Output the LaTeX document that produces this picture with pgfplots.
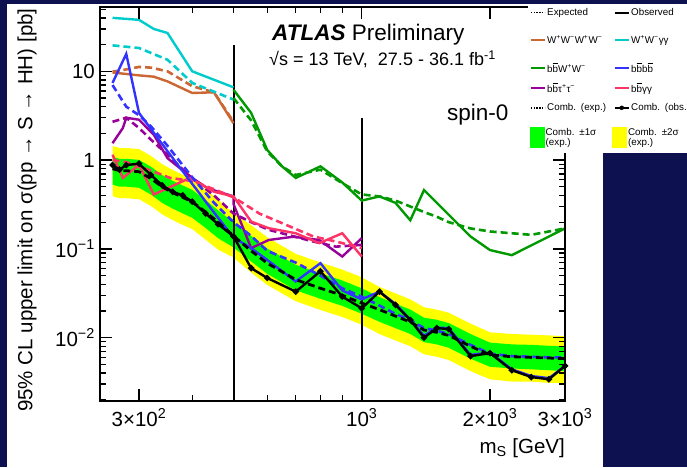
\documentclass[border=0pt]{standalone}
\usepackage{fontspec}
\setmainfont{Liberation Sans}
\usepackage{pgfplots}
\pgfplotsset{compat=1.18}
\usepackage{pgfplotstable}

\definecolor{navy}{RGB}{14,17,80}
\definecolor{cWWWW}{RGB}{204,102,51}
\definecolor{cWWgg}{RGB}{0,204,204}
\definecolor{cbbWW}{RGB}{0,153,0}
\definecolor{cbbbb}{RGB}{51,51,255}
\definecolor{cbbtt}{RGB}{153,0,153}
\definecolor{cbbgg}{RGB}{255,51,102}
\definecolor{bandone}{RGB}{0,255,0}
\definecolor{bandtwo}{RGB}{255,255,0}

\newcommand{\bbar}{$\overline{\mbox{b}}$}
\newcommand{\tl}{\fontsize{20.5}{24}\selectfont}

% hidden axes that only carry a block of legend rows
\pgfplotsset{
  legendblock/.style={
    at={(100pt,66.3pt)}, anchor=south west,
    scale only axis, width=465pt, height=393.7pt,
    hide axis, xmin=0, xmax=1, ymin=0, ymax=1,
    legend columns=2,
    legend cell align=left,
    legend style={at={(axis description cs:0.9237,#1)}, anchor=west,
      draw=none, fill=none, inner sep=0pt,
      font=\fontsize{9.8}{9.5}\selectfont,
      nodes={inner xsep=1.5pt, inner ysep=0pt, text width=65pt}},
    legend image code/.code={\draw[##1] (0pt,0pt) -- (14pt,0pt);},
  },
}

% combined expected limit
\pgfplotstableread{
m     exp
260   0.80
270   0.76
280   0.76
300   0.74
320   0.62
340   0.50
360   0.43
380   0.38
400   0.34
430   0.26
460   0.20
500   0.14
550   0.095
600   0.069
700   0.045
800   0.036
900   0.030
1000  0.0245
1100  0.0207
1200  0.0175
1300  0.015
1400  0.0122
1500  0.0115
1600  0.0106
1800  0.008
2000  0.0064
2250  0.0061
2500  0.0060
2750  0.0059
3000  0.0058
}\combexp

% +-2 sigma band: upper edge left to right, lower edge right to left
\pgfplotstableread{
m     v
260   1.44
270   1.368
280   1.368
300   1.332
320   1.116
340   0.90
360   0.774
380   0.684
400   0.612
430   0.468
460   0.36
500   0.252
550   0.185
600   0.135
700   0.0878
800   0.0702
900   0.0585
1000  0.0478
1100  0.0373
1200  0.0315
1300  0.027
1400  0.022
1500  0.0207
1600  0.0191
1800  0.0144
2000  0.0115
2250  0.011
2500  0.0108
2750  0.0106
3000  0.0104
3000  0.0031
2750  0.0031
2500  0.0032
2250  0.0032
2000  0.0034
1800  0.0042
1600  0.0056
1500  0.0061
1400  0.0065
1300  0.008
1200  0.0093
1100  0.011
1000  0.014
900   0.0171
800   0.0205
700   0.0257
600   0.0393
550   0.0542
500   0.080
460   0.098
430   0.127
400   0.167
380   0.186
360   0.211
340   0.245
320   0.304
300   0.363
280   0.372
270   0.372
260   0.392
}\bandtwotab

% +-1 sigma band
\pgfplotstableread{
m     v
260   1.088
270   1.034
280   1.034
300   1.006
320   0.843
340   0.68
360   0.585
380   0.517
400   0.462
430   0.354
460   0.272
500   0.199
550   0.140
600   0.101
700   0.0662
800   0.0529
900   0.0441
1000  0.036
1100  0.0286
1200  0.0242
1300  0.0207
1400  0.0168
1500  0.0159
1600  0.0146
1800  0.011
2000  0.0088
2250  0.0084
2500  0.0083
2750  0.0081
3000  0.008
3000  0.0042
2750  0.0043
2500  0.0044
2250  0.0045
2000  0.0047
1800  0.0058
1600  0.0077
1500  0.0084
1400  0.0089
1300  0.011
1200  0.0128
1100  0.0151
1000  0.0186
900   0.0228
800   0.0274
700   0.0342
600   0.0524
550   0.0722
500   0.104
460   0.132
430   0.172
400   0.224
380   0.251
360   0.284
340   0.33
320   0.409
300   0.488
280   0.502
270   0.502
260   0.528
}\bandonetab

% combined observed limit
\pgfplotstableread{
m     obs
260   0.88
270   0.78
280   0.88
300   0.91
320   0.68
340   0.52
360   0.44
380   0.40
400   0.34
430   0.25
460   0.19
500   0.138
550   0.0607
600   0.047
700   0.033
800   0.056
900   0.029
1000  0.0214
1100  0.033
1200  0.0234
1300  0.0158
1400  0.0100
1500  0.0128
1600  0.0125
1800  0.0062
2000  0.0067
2250  0.0043
2500  0.0036
2750  0.0034
3000  0.0048
}\combobs

\begin{document}
\begin{tikzpicture}
\useasboundingbox (0pt,0pt) rectangle (687pt,467pt);
\fill[navy] (0pt,0pt) rectangle (687pt,467pt);
\fill[white] (7pt,0pt) rectangle (603pt,463pt);

\begin{axis}[
  at={(100pt,66.3pt)}, anchor=south west,
  scale only axis, width=465pt, height=393.7pt,
  xmode=log, ymode=log,
  xmin=243, xmax=3000, ymin=0.00195, ymax=53,
  axis on top,
  axis line style={line width=1.6pt},
  tick style={line width=1.3pt, black},
  major tick length=12pt, minor tick length=6pt,
  tick align=inside,
  xtick={300,1000,2000,3000},
  xticklabels={3×10\textsuperscript{2},10\textsuperscript{3},2×10\textsuperscript{3},3×10\textsuperscript{3}},
  minor xtick={400,500,600,700,800,900},
  ytick={0.01,0.1,1,10},
  yticklabels={10\textsuperscript{−2},10\textsuperscript{−1},1,10},
  minor ytick={0.002,0.003,0.004,0.005,0.006,0.007,0.008,0.009,
               0.02,0.03,0.04,0.05,0.06,0.07,0.08,0.09,
               0.2,0.3,0.4,0.5,0.6,0.7,0.8,0.9,
               2,3,4,5,6,7,8,9,20,30,40,50},
  ticklabel style={font=\tl},
  xticklabel style={inner sep=0pt, yshift=-8pt},
  yticklabel style={inner sep=0pt, xshift=-5pt},
  xlabel={m\textsubscript{S} [GeV]},
  xlabel style={font=\tl, at={(axis description cs:1,0)}, anchor=north east, inner sep=0pt, yshift=-38pt},
  ylabel={95\% CL upper limit on σ(pp → S → HH) [pb]},
  ylabel style={font=\tl, at={(axis description cs:-0.157,0.484)}, anchor=center, inner sep=0pt},
]

% expected bands of the combination
\addplot[fill=bandtwo, draw=none] table[x=m, y=v] {\bandtwotab};
\addplot[fill=bandone, draw=none] table[x=m, y=v] {\bandonetab};

% boundaries between analysis regimes
\addplot[black, line width=2pt] coordinates {(500,0.00195) (500,20)};
\addplot[black, line width=2pt] coordinates {(1000,0.00195) (1000,3.0)};

% W+W-W+W-
\addplot[cWWWW, line width=2.6pt, dash pattern=on 7pt off 4pt] coordinates {
(260,9.9) (280,10.5) (300,11.2) (320,11.0) (350,10.0) (400,6.8) (450,5.8) (500,2.7)};
\addplot[cWWWW, line width=2.4pt] coordinates {
(260,9.7) (300,9.0) (325,8.7) (350,7.7) (400,5.7) (450,5.8) (500,2.6)};

% W+W-gamma gamma
\addplot[cWWgg, line width=2.6pt, dash pattern=on 7pt off 4pt] coordinates {
(260,19.6) (300,18.3) (350,13.5) (400,7.4) (490,5.0) (500,4.8)};
\addplot[cWWgg, line width=2.4pt] coordinates {
(260,40) (300,38) (325,30) (350,27) (400,10) (500,6.6)};

% bbWW
\addplot[cbbWW, line width=2.6pt, dash pattern=on 7pt off 4pt] coordinates {
(500,5.0) (550,2.8) (600,1.25) (650,0.85) (700,0.68) (800,0.78) (900,0.55) (1000,0.41)
(1100,0.39) (1200,0.35) (1300,0.30) (1400,0.26) (1500,0.23) (1600,0.20) (1800,0.17)
(2000,0.157) (2500,0.144) (3000,0.17)};
\addplot[cbbWW, line width=2.4pt] coordinates {
(500,6.2) (550,3.4) (600,1.3) (650,0.85) (700,0.63) (800,0.85) (900,0.56) (1000,0.35)
(1100,0.39) (1200,0.33) (1300,0.21) (1400,0.46) (1800,0.138) (2000,0.097) (2250,0.085) (3000,0.17)};

% bbtautau
\addplot[cbbtt, line width=2.6pt, dash pattern=on 7pt off 4pt] coordinates {
(260,2.7) (280,3.0) (300,2.3) (320,1.7) (350,1.15) (400,0.62) (450,0.40) (500,0.25)
(550,0.20) (605,0.164) (770,0.121) (870,0.106) (1000,0.111)};
\addplot[cbbtt, line width=2.4pt] coordinates {
(260,1.55) (275,2.3) (280,3.0) (300,2.85) (325,1.93) (350,1.05) (400,0.63) (435,0.48) (500,0.39)
(500,0.32) (550,0.102) (605,0.126) (690,0.137) (795,0.126) (900,0.082) (1000,0.132)};

% bbgammagamma
\addplot[cbbgg, line width=2.6pt, dash pattern=on 7pt off 4pt] coordinates {
(260,1.0) (280,0.95) (300,0.85) (325,0.74) (355,0.63) (400,0.58) (450,0.47) (500,0.38)
(525,0.33) (575,0.25) (650,0.195) (770,0.138) (870,0.121) (1000,0.102)};
\addplot[cbbgg, line width=2.4pt] coordinates {
(260,1.15) (275,0.63) (300,0.885) (325,0.41) (395,0.63) (450,0.44) (500,0.39)
(550,0.203) (605,0.171) (700,0.15) (795,0.116) (900,0.15) (1000,0.082)};

% bbbb
\addplot[cbbbb, line width=2.6pt, dash pattern=on 7pt off 4pt] coordinates {
(260,7.0) (280,4.0) (300,3.2) (320,2.4) (350,1.45) (400,0.64) (450,0.33) (500,0.20)
(550,0.14) (600,0.095) (700,0.07) (800,0.05) (900,0.036) (1000,0.029) (1100,0.023)
(1200,0.0185) (1300,0.0158) (1400,0.0128) (1500,0.012) (1600,0.011) (1800,0.0083)
(2000,0.0066) (2250,0.0062) (2500,0.0061) (2750,0.006) (3000,0.006)};
\addplot[cbbbb, line width=2.4pt] coordinates {
(260,7.4) (280,15.7) (300,3.4) (350,1.26) (400,0.54) (450,0.257) (500,0.134)
(550,0.102) (600,0.075) (700,0.043) (800,0.069) (900,0.034) (1000,0.027)
(1100,0.033) (1200,0.024) (1300,0.016) (1400,0.0105) (1500,0.013) (1600,0.0128)
(1800,0.0064) (2000,0.0068) (2250,0.0044) (2500,0.0037) (2750,0.0035) (3000,0.0048)};

% combination
\addplot[black, line width=2.8pt, dash pattern=on 7pt off 4pt] table[x=m, y=exp] {\combexp};
\addplot[black, line width=2.4pt, mark=*, mark size=1.8pt] table[x=m, y=obs] {\combobs};
\end{axis}

% area reserved for the legend
\fill[white] (528pt,314pt) rectangle (687pt,463pt);

\node[anchor=base west, inner sep=0pt, font=\fontsize{22.5}{27}\selectfont] at (272pt,426pt) {\textbf{\textit{ATLAS}} Preliminary};
\node[anchor=base west, inner sep=0pt, font=\fontsize{18}{22}\selectfont] at (269pt,401pt) {√s = 13 TeV,\ \ 27.5 - 36.1 fb\textsuperscript{-1}};
\node[anchor=base west, inner sep=0pt, font=\fontsize{22.5}{27}\selectfont] at (447pt,346.3pt) {spin-0};

% legend, first block
\begin{axis}[legendblock=0.9137, legend style={row sep=18.5pt}]
\addlegendimage{black, line width=1.5pt, dash pattern=on 1.4pt off 1.4pt}
\addlegendentry{Expected}
\addlegendimage{black, line width=1.8pt}
\addlegendentry{Observed}
\addlegendimage{cWWWW, line width=2pt}
\addlegendentry{W\textsuperscript{+}W\textsuperscript{−}W\textsuperscript{+}W\textsuperscript{−}}
\addlegendimage{cWWgg, line width=2pt}
\addlegendentry{W\textsuperscript{+}W\textsuperscript{−}γγ}
\addlegendimage{cbbWW, line width=2pt}
\addlegendentry{b\bbar W\textsuperscript{+}W\textsuperscript{−}}
\addlegendimage{cbbbb, line width=2pt}
\addlegendentry{b\bbar b\bbar}
\end{axis}

% legend, second block
\begin{axis}[legendblock=0.7701, legend style={row sep=10pt}]
\addlegendimage{cbbtt, line width=2pt}
\addlegendentry{b\bbar τ\textsuperscript{+}τ\textsuperscript{−}}
\addlegendimage{cbbgg, line width=2pt}
\addlegendentry{b\bbar γγ}
\addlegendimage{black, line width=1.5pt, dash pattern=on 1.4pt off 1.4pt}
\addlegendentry{Comb. (exp.)}
\addlegendimage{legend image code/.code={\draw[black, line width=1.8pt] (0pt,0pt) -- (14pt,0pt); \fill[black] (7pt,0pt) circle[radius=2pt];}}
\addlegendentry{Comb. (obs.)}
\end{axis}

% legend, band entries
\begin{axis}[legendblock=0.6698]
\addlegendimage{legend image code/.code={\fill[bandone] (0pt,-12pt) rectangle (14pt,8pt);}}
\addlegendentry{\begin{tabular}{@{}l@{}}Comb. ±1σ\\(exp.)\end{tabular}}
\addlegendimage{legend image code/.code={\fill[bandtwo] (0pt,-12pt) rectangle (14pt,8pt);}}
\addlegendentry{\begin{tabular}{@{}l@{}}Comb. ±2σ\\(exp.)\end{tabular}}
\end{axis}
\end{tikzpicture}
\end{document}
